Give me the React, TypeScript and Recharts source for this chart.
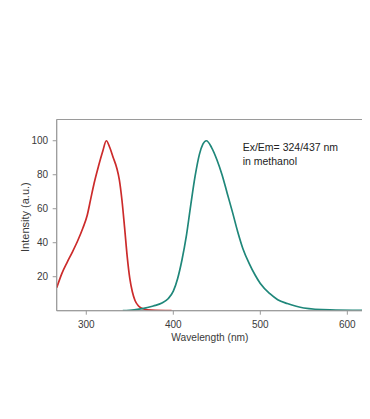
import React from 'react';
import { LineChart, Line, XAxis, YAxis, ReferenceArea, Label } from 'recharts';

// Excitation spectrum (red)
const exWavelength = [266, 272, 278, 284, 290, 296, 301, 305, 309, 314, 319, 323, 327, 331, 335, 338, 341, 344, 347, 350, 353, 356, 360, 366, 375, 398];
const exIntensity = [13.5, 22, 28.5, 34.5, 41, 48.5, 56, 65.5, 75, 85, 94, 100, 96, 90, 84, 77, 65, 49, 32, 19, 11, 6, 2.8, 1, 0.3, 0];

// Emission spectrum (teal)
const emWavelength = [342, 355, 366, 377, 387, 394, 400, 405, 410, 415, 420, 425, 430, 434, 438, 444, 450, 456, 462, 468, 474, 480, 487, 494, 500, 511, 520, 531, 550, 580, 618];
const emIntensity = [0, 0.5, 1.4, 2.8, 4.5, 7, 11.5, 19, 30, 44, 62, 79, 92, 98, 100, 96, 89, 80, 69, 58, 46.5, 36.5, 28, 21, 16, 10, 6.5, 4.2, 1.6, 0.5, 0.2];

const xTicks = [300, 400, 500, 600];
const yTicks = [20, 40, 60, 80, 100];
const xDomain = [266, 618];
const yDomain = [0, 112.5];

const annotationLines = ['Ex/Em= 324/437 nm', 'in methanol'];
const xTitle = 'Wavelength (nm)';
const yTitle = 'Intensity (a.u.)';

const exData = exWavelength.map((w, i) => ({ wl: w, v: exIntensity[i] }));
const emData = emWavelength.map((w, i) => ({ wl: w, v: emIntensity[i] }));

const FONT = '"Liberation Sans", Arial, sans-serif';
const AXIS = '#9a9a9a';
const TEXT = '#3a3a3a';

export default function App() {
  return (
    <div style={{ width: 362, height: 411, fontFamily: FONT }}>
      <LineChart
        width={362}
        height={411}
        margin={{ top: 111.5, right: 7, left: 18.7, bottom: 78.3 }}
      >
        <XAxis
          dataKey="wl"
          type="number"
          domain={xDomain}
          ticks={xTicks}
          allowDataOverflow
          height={30}
          tickSize={4}
          tickMargin={6}
          stroke={AXIS}
          tick={{ fontSize: 10, fill: TEXT, fontFamily: FONT }}
        >
          <Label
            content={({ viewBox }: any) => (
              <text
                x={viewBox.x + viewBox.width / 2}
                y={332.7}
                textAnchor="middle"
                fontSize={10.2}
                fill={TEXT}
                fontFamily={FONT}
              >
                {xTitle}
              </text>
            )}
          />
        </XAxis>
        <YAxis
          type="number"
          domain={yDomain}
          ticks={yTicks}
          allowDataOverflow
          width={30}
          tickSize={4}
          tickMargin={4.5}
          stroke={AXIS}
          tick={{ fontSize: 10, fill: TEXT, fontFamily: FONT }}
        >
          <Label
            content={({ viewBox }: any) => {
              const cx = 17;
              const cy = viewBox.y + viewBox.height / 2 + 2;
              return (
                <text
                  x={cx}
                  y={cy}
                  textAnchor="middle"
                  dominantBaseline="central"
                  fontSize={11}
                  fill={TEXT}
                  fontFamily={FONT}
                  transform={`rotate(-90 ${cx} ${cy})`}
                >
                  {yTitle}
                </text>
              );
            }}
          />
        </YAxis>
        <ReferenceArea
          x1={xDomain[0]}
          x2={xDomain[1]}
          y1={yDomain[0]}
          y2={yDomain[1]}
          fill="none"
          fillOpacity={0}
          stroke={AXIS}
          strokeWidth={1}
          ifOverflow="visible"
          label={({ viewBox }: any) => (
            <g>
              {annotationLines.map((t, i) => (
                <text
                  key={i}
                  x={viewBox.x + 186}
                  y={viewBox.y + 31.2 + i * 14.3}
                  fontSize={10.5}
                  fill="#222"
                  fontFamily={FONT}
                >
                  {t}
                </text>
              ))}
            </g>
          )}
        />
        <Line
          data={exData}
          dataKey="v"
          type="monotone"
          stroke="#cc2b2b"
          strokeWidth={1.7}
          dot={false}
          activeDot={false}
          isAnimationActive={false}
        />
        <Line
          data={emData}
          dataKey="v"
          type="monotone"
          stroke="#1f877a"
          strokeWidth={1.7}
          dot={false}
          activeDot={false}
          isAnimationActive={false}
        />
      </LineChart>
    </div>
  );
}
